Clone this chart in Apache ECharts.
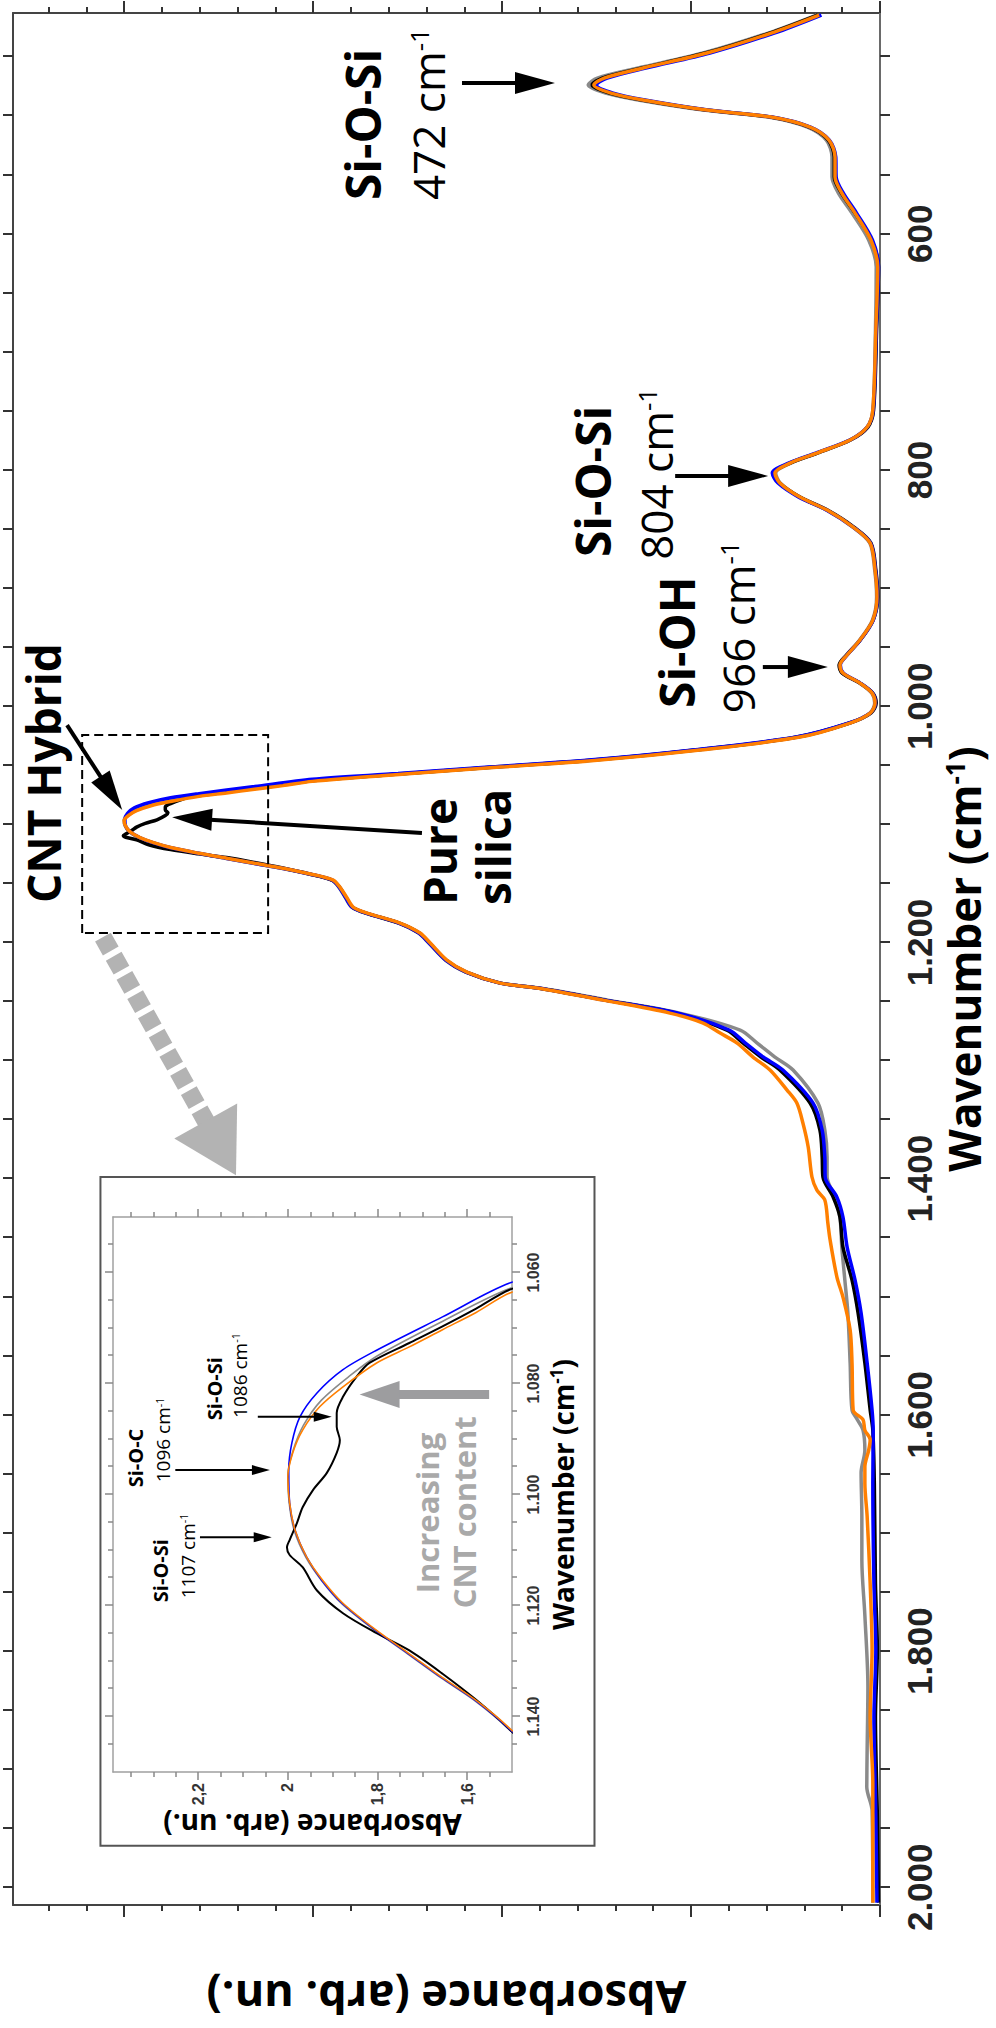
<!DOCTYPE html>
<html><head><meta charset="utf-8">
<script src="https://cdn.jsdelivr.net/npm/echarts@6.0.0/dist/echarts.min.js"></script>
<style>
html,body{margin:0;padding:0;background:#fff;overflow:hidden;width:996px;height:2028px;}
#wrap{position:absolute;left:0;top:0;width:2028px;height:996px;transform-origin:0 0;transform:translate(0px,2028px) rotate(-90deg);}
</style></head><body>
<div id="wrap"></div>
<script>
// ---------- data (wavenumber cm-1, absorbance arb. un.) ----------
const orangeSpectrum = [[414.7,0.161],[430.0,0.288],[446.9,0.458],[459.6,0.627],[468.1,0.730],[474.0,0.757],[480.8,0.712],[486.7,0.627],[495.2,0.458],[501.1,0.288],[509.6,0.185],[520.6,0.135],[535.0,0.119],[551.9,0.119],[565.5,0.101],[582.4,0.066],[605.2,0.024],[628.1,0.006],[681.5,0.011],[749.2,0.019],[763.6,0.034],[774.6,0.079],[785.6,0.167],[794.1,0.238],[802.5,0.278],[811.0,0.265],[822.9,0.212],[833.9,0.140],[848.3,0.071],[861.8,0.026],[884.7,0.013],[907.5,0.008],[927.0,0.019],[943.9,0.053],[956.6,0.087],[965.1,0.106],[971.9,0.098],[980.4,0.053],[988.8,0.021],[997.3,0.013],[1005.8,0.026],[1014.2,0.079],[1026.1,0.212],[1037.1,0.476],[1045.6,0.741],[1051.5,1.005],[1057.0,1.240],[1063.6,1.502],[1067.2,1.580],[1070.3,1.655],[1073.4,1.729],[1076.3,1.802],[1080.6,1.877],[1084.2,1.929],[1088.4,1.967],[1092.5,1.989],[1096.8,2.000],[1101.5,1.996],[1106.4,1.984],[1111.3,1.958],[1115.5,1.922],[1119.6,1.877],[1124.5,1.802],[1128.7,1.729],[1133.0,1.655],[1137.1,1.580],[1142.0,1.507],[1147.2,1.447],[1153.1,1.429],[1162.4,1.410],[1170.0,1.394],[1175.1,1.357],[1183.6,1.270],[1192.0,1.217],[1200.5,1.190],[1214.9,1.146],[1225.1,1.093],[1234.4,1.005],[1238.6,0.907],[1248.8,0.733],[1259.8,0.556],[1268.2,0.468],[1276.7,0.423],[1285.2,0.378],[1297.0,0.336],[1308.0,0.291],[1325.0,0.246],[1336.0,0.220],[1352.9,0.204],[1373.2,0.190],[1398.6,0.180],[1409.7,0.167],[1418.1,0.146],[1437.6,0.138],[1452.0,0.132],[1483.3,0.114],[1500.3,0.098],[1528.2,0.079],[1556.1,0.074],[1595.9,0.071],[1604,0.045],[1613,0.040],[1621,0.026],[1630,0.030],[1644,0.040],[1658,0.040],[1686,0.034],[1743,0.026],[1799,0.021],[1856,0.026],[1912,0.019],[2013,0.019]];
const blackSpectrum = [[414.7,0.165],[430.0,0.292],[446.9,0.462],[459.6,0.630],[468.1,0.735],[474.0,0.762],[480.8,0.716],[486.7,0.630],[495.2,0.460],[501.1,0.290],[509.6,0.187],[520.6,0.137],[535.0,0.121],[551.9,0.121],[565.5,0.102],[582.4,0.066],[605.2,0.022],[628.1,0.004],[681.5,0.009],[749.2,0.017],[763.6,0.032],[774.6,0.078],[785.6,0.166],[794.1,0.238],[802.5,0.280],[811.0,0.266],[822.9,0.212],[833.9,0.139],[848.3,0.069],[861.8,0.024],[884.7,0.011],[907.5,0.006],[927.0,0.018],[943.9,0.052],[956.6,0.088],[965.1,0.108],[971.9,0.100],[980.4,0.053],[988.8,0.019],[997.3,0.010],[1005.8,0.024],[1014.2,0.080],[1026.1,0.220],[1037.1,0.490],[1045.6,0.760],[1051.5,1.020],[1057.0,1.255],[1063.0,1.502],[1066.5,1.580],[1069.7,1.655],[1072.7,1.729],[1076.3,1.818],[1078.8,1.847],[1082.4,1.877],[1085.3,1.891],[1087.8,1.891],[1090.2,1.884],[1092.5,1.891],[1096.1,1.913],[1099.2,1.944],[1102.3,1.967],[1105.2,1.980],[1108.2,1.996],[1109.5,2.002],[1110.9,1.996],[1113.1,1.967],[1117.3,1.935],[1121.4,1.877],[1125.0,1.802],[1128.1,1.729],[1132.3,1.655],[1137.0,1.580],[1142.0,1.510],[1147.2,1.450],[1153.1,1.430],[1162.4,1.412],[1170.0,1.396],[1175.1,1.360],[1183.6,1.272],[1192.0,1.219],[1200.5,1.192],[1214.9,1.148],[1225.1,1.095],[1234.4,1.005],[1238.6,0.905],[1248.8,0.728],[1259.8,0.540],[1274.2,0.405],[1285.2,0.362],[1297.0,0.315],[1308.0,0.265],[1336.0,0.185],[1358.8,0.159],[1381.7,0.153],[1398.6,0.151],[1415.6,0.124],[1432.5,0.106],[1457.9,0.098],[1485.9,0.074],[1513.8,0.058],[1556.1,0.040],[1595.9,0.026],[1612.9,0.019],[1658,0.015],[1743,0.012],[1799,0.007],[1856,0.012],[1940,0.007],[2013,0.004]];
const blueSpectrum = [[414.7,0.155],[430.0,0.280],[446.9,0.450],[459.6,0.620],[468.1,0.722],[474.0,0.750],[480.8,0.706],[486.7,0.622],[495.2,0.455],[501.1,0.286],[509.6,0.184],[520.6,0.134],[535.0,0.117],[551.9,0.116],[565.5,0.097],[582.4,0.062],[605.2,0.020],[628.1,0.004],[681.5,0.010],[749.2,0.018],[763.6,0.034],[774.6,0.080],[785.6,0.170],[794.1,0.242],[802.5,0.285],[811.0,0.270],[822.9,0.215],[833.9,0.141],[848.3,0.071],[861.8,0.025],[884.7,0.012],[907.5,0.007],[927.0,0.018],[943.9,0.052],[956.6,0.087],[965.1,0.105],[971.9,0.097],[980.4,0.052],[988.8,0.020],[997.3,0.012],[1005.8,0.026],[1014.2,0.082],[1026.1,0.222],[1037.1,0.495],[1045.6,0.770],[1051.5,1.035],[1057.0,1.275],[1061.8,1.502],[1068.0,1.655],[1074.0,1.802],[1077.5,1.877],[1081.7,1.935],[1086.0,1.973],[1090.7,1.991],[1095.6,1.998],[1101.5,1.996],[1106.4,1.984],[1111.3,1.958],[1115.5,1.924],[1119.6,1.879],[1124.5,1.804],[1128.7,1.731],[1133.0,1.657],[1137.1,1.582],[1142.0,1.509],[1147.2,1.449],[1153.1,1.431],[1162.4,1.413],[1170.0,1.397],[1175.1,1.360],[1183.6,1.273],[1192.0,1.220],[1200.5,1.193],[1214.9,1.149],[1225.1,1.095],[1234.4,1.005],[1238.6,0.905],[1248.8,0.728],[1259.8,0.535],[1274.2,0.399],[1285.2,0.356],[1297.0,0.309],[1308.0,0.257],[1336.0,0.177],[1358.8,0.153],[1381.7,0.146],[1398.6,0.145],[1415.6,0.114],[1432.5,0.098],[1457.9,0.087],[1485.9,0.066],[1513.8,0.050],[1556.1,0.034],[1595.9,0.021],[1612.9,0.018],[1658,0.019],[1743,0.016],[1799,0.011],[1856,0.016],[1940,0.011],[2013,0.008]];
const graySpectrum = [[414.7,0.168],[430.0,0.296],[446.9,0.468],[459.6,0.640],[468.1,0.748],[474.0,0.772],[480.8,0.726],[486.7,0.640],[495.2,0.468],[501.1,0.296],[509.6,0.192],[520.6,0.142],[535.0,0.127],[551.9,0.127],[565.5,0.110],[582.4,0.074],[605.2,0.030],[628.1,0.010],[681.5,0.012],[749.2,0.019],[763.6,0.034],[774.6,0.079],[785.6,0.166],[794.1,0.236],[802.5,0.276],[811.0,0.264],[822.9,0.212],[833.9,0.141],[848.3,0.072],[861.8,0.027],[884.7,0.014],[907.5,0.009],[927.0,0.020],[943.9,0.054],[956.6,0.089],[965.1,0.108],[971.9,0.099],[980.4,0.054],[988.8,0.022],[997.3,0.014],[1005.8,0.027],[1014.2,0.081],[1026.1,0.216],[1037.1,0.484],[1045.6,0.752],[1051.5,1.015],[1057.0,1.250],[1062.8,1.502],[1069.0,1.660],[1075.0,1.800],[1078.5,1.860],[1083.0,1.925],[1087.5,1.965],[1092.0,1.988],[1096.5,2.000],[1101.5,1.997],[1106.4,1.986],[1111.3,1.960],[1115.5,1.925],[1119.6,1.881],[1124.5,1.806],[1128.7,1.733],[1133.0,1.659],[1137.1,1.584],[1142.0,1.511],[1147.2,1.450],[1153.1,1.432],[1162.4,1.414],[1170.0,1.398],[1175.1,1.362],[1183.6,1.274],[1192.0,1.221],[1200.5,1.194],[1214.9,1.150],[1225.1,1.096],[1234.4,1.003],[1238.6,0.900],[1248.8,0.720],[1259.8,0.530],[1274.2,0.370],[1285.2,0.325],[1297.0,0.278],[1308.0,0.230],[1336.0,0.164],[1358.8,0.146],[1381.7,0.140],[1398.6,0.140],[1415.6,0.119],[1432.5,0.106],[1457.9,0.101],[1485.9,0.093],[1513.8,0.085],[1556.1,0.079],[1595.9,0.074],[1604,0.060],[1612.9,0.045],[1630,0.040],[1649,0.050],[1686,0.048],[1723,0.048],[1770,0.040],[1830,0.032],[1883,0.034],[1915,0.035],[1935,0.021],[2013,0.019]];

// ---------- ticks / labels ----------
const wavenumberTicks = [450,500,550,600,650,700,750,800,850,900,950,1000,1050,1100,1150,1200,1250,1300,1350,1400,1450,1500,1550,1600,1650,1700,1750,1800,1850,1900,1950,2000];
const wavenumberLabels = [600,800,1000,1200,1400,1600,1800,2000];
const absorbanceMajorTicks = [0,0.5,1,1.5,2];
const absorbanceMinorTicks = [0.1,0.2,0.3,0.4,0.6,0.7,0.8,0.9,1.1,1.2,1.3,1.4,1.6,1.7,1.8,1.9,2.1,2.2];
const insetWavenumberLabels = [1060,1080,1100,1120,1140];
const insetWavenumberMinorTicks = [1055,1065,1070,1075,1085,1090,1095,1105,1110,1115,1125,1130,1135,1145];
const insetAbsorbanceLabels = [1.6,1.8,2.0,2.2];
const insetAbsorbanceMinorTicks = [1.55,1.65,1.7,1.75,1.85,1.9,1.95,2.05,2.1,2.15,2.25,2.3,2.35];

const spectra = [
  {name:'CNT hybrid C', data:graySpectrum, color:'#8a8a8a'},
  {name:'Pure silica', data:blackSpectrum, color:'#000000'},
  {name:'CNT hybrid B', data:blueSpectrum, color:'#0000ff'},
  {name:'CNT hybrid A', data:orangeSpectrum, color:'#ff7f00'}
];

// ---------- helpers ----------
const fmtThousands = v => v >= 1000 ? Math.floor(v/1000) + '.' + String(v % 1000).padStart(3,'0') : String(v);
const fmtComma = v => String(Math.round(v*10)/10).replace('.', ',');
const FONT = 'Open Sans';

function axis(o) {
  return {
    type:'value', gridIndex:o.grid, position:o.pos, min:o.min, max:o.max, inverse:!!o.inverse,
    axisLine:{show:!!o.line, onZero:false, lineStyle:{color:o.lineColor || '#444', width:o.lineWidth || 2}},
    axisTick:{show:true, inside:false, customValues:o.ticks, length:o.tickLen, lineStyle:{color:o.tickColor || '#333', width:o.tickWidth || 2}},
    axisLabel:o.labels ? Object.assign({show:true, customValues:o.labels}, o.labelStyle) : {show:false},
    splitLine:{show:false}, minorTick:{show:false},
    name:o.name || '', nameLocation:'middle', nameGap:o.nameGap || 0, nameRotate:o.nameRotate,
    nameTextStyle:o.nameStyle || {}
  };
}

const mainWn = {grid:0, min:413, max:2015, inverse:true};
const mainAb = {grid:0, min:0, max:2.294};
const insWn = {grid:1, min:1050, max:1150, inverse:true};
const insAb = {grid:1, min:1.5, max:2.39};

const bigName = {fontFamily:FONT, fontWeight:'bold', fontSize:44, lineHeight:44, color:'#000',
  rich:{t:{fontFamily:FONT, fontWeight:'bold', fontSize:44, lineHeight:44, color:'#000'}, s:{fontFamily:FONT, fontWeight:'bold', fontSize:26, lineHeight:28, color:'#000', verticalAlign:'top'}}};
const smallName = {fontFamily:FONT, fontWeight:'bold', fontSize:28, lineHeight:29, color:'#000',
  rich:{t:{fontFamily:FONT, fontWeight:'bold', fontSize:28, lineHeight:29, color:'#000'}, s:{fontFamily:FONT, fontWeight:'bold', fontSize:17, lineHeight:19, color:'#000', verticalAlign:'top'}}};

const xAxes = [
  axis(Object.assign({}, mainWn, {pos:'bottom', line:true, lineColor:'#6a6a6a', ticks:wavenumberTicks, tickLen:10,
    labels:wavenumberLabels, labelStyle:{formatter:fmtThousands, margin:22, fontSize:35, fontWeight:'bold', fontFamily:'Liberation Sans', color:'#222'},
    name:'{t|Wavenumber (cm}{s|-1}{t|)}', nameGap:60, nameStyle:bigName})),
  axis(Object.assign({}, mainWn, {pos:'top', line:true, ticks:wavenumberTicks, tickLen:10})),
  axis(Object.assign({}, insWn, {pos:'bottom', line:true, lineColor:'#a0a0a0', lineWidth:1.5, ticks:insetWavenumberLabels, tickLen:8, tickColor:'#888', tickWidth:1.5,
    labels:insetWavenumberLabels, labelStyle:{formatter:fmtThousands, margin:13, fontSize:16, fontWeight:'bold', fontFamily:'Liberation Sans', color:'#333'},
    name:'{t|Wavenumber (cm}{s|-1}{t|)}', nameGap:36, nameStyle:smallName})),
  axis(Object.assign({}, insWn, {pos:'bottom', ticks:insetWavenumberMinorTicks, tickLen:5, tickColor:'#888', tickWidth:1.5})),
  axis(Object.assign({}, insWn, {pos:'top', line:true, lineColor:'#a0a0a0', lineWidth:1.5, ticks:insetWavenumberLabels, tickLen:8, tickColor:'#888', tickWidth:1.5})),
  axis(Object.assign({}, insWn, {pos:'top', ticks:insetWavenumberMinorTicks, tickLen:5, tickColor:'#888', tickWidth:1.5}))
];
const yAxes = [
  axis(Object.assign({}, mainAb, {pos:'left', line:true, ticks:absorbanceMajorTicks, tickLen:12,
    name:'Absorbance (arb. un.)', nameGap:70, nameRotate:90, nameStyle:{fontFamily:FONT, fontWeight:'bold', fontSize:45, lineHeight:46, color:'#000'}})),
  axis(Object.assign({}, mainAb, {pos:'left', ticks:absorbanceMinorTicks, tickLen:6})),
  axis(Object.assign({}, mainAb, {pos:'right', line:true, ticks:absorbanceMajorTicks, tickLen:12})),
  axis(Object.assign({}, mainAb, {pos:'right', ticks:absorbanceMinorTicks, tickLen:6})),
  axis(Object.assign({}, insAb, {pos:'left', line:true, lineColor:'#a0a0a0', lineWidth:1.5, ticks:insetAbsorbanceLabels, tickLen:8, tickColor:'#888', tickWidth:1.5,
    labels:insetAbsorbanceLabels, labelStyle:{formatter:fmtComma, margin:11, fontSize:16, fontWeight:'bold', fontFamily:'Liberation Sans', color:'#333'},
    name:'Absorbance (arb. un.)', nameGap:38, nameRotate:90, nameStyle:{fontFamily:FONT, fontWeight:'bold', fontSize:28, lineHeight:29, color:'#000'}})),
  axis(Object.assign({}, insAb, {pos:'left', ticks:insetAbsorbanceMinorTicks, tickLen:5, tickColor:'#888', tickWidth:1.5})),
  axis(Object.assign({}, insAb, {pos:'right', line:true, lineColor:'#a0a0a0', lineWidth:1.5, ticks:insetAbsorbanceLabels, tickLen:8, tickColor:'#888', tickWidth:1.5})),
  axis(Object.assign({}, insAb, {pos:'right', ticks:insetAbsorbanceMinorTicks, tickLen:5, tickColor:'#888', tickWidth:1.5}))
];

const series = [];
spectra.forEach(s => series.push({type:'line', name:s.name, xAxisIndex:0, yAxisIndex:0, data:s.data, showSymbol:false, smooth:0.3, clip:true,
  lineStyle:{color:s.color, width:3.5}, itemStyle:{color:s.color}, emphasis:{disabled:true}}));
spectra.forEach(s => series.push({type:'line', name:s.name + ' (inset)', xAxisIndex:2, yAxisIndex:4, data:s.data, showSymbol:false, smooth:0.3, clip:true,
  lineStyle:{color:s.color, width:s.color === '#000000' ? 2 : 1.6}, itemStyle:{color:s.color}, emphasis:{disabled:true}}));

const chart = echarts.init(document.getElementById('wrap'), null, {renderer:'svg', width:2028, height:996});
chart.setOption({
  animation:false, backgroundColor:'#ffffff',
  grid:[
    {left:123, right:13, top:13, bottom:116, outerBoundsMode:'none', containLabel:false},
    {left:256, right:1217, top:113, bottom:484, outerBoundsMode:'none', containLabel:false}
  ],
  xAxis:xAxes, yAxis:yAxes, series:series
});

// ---------- annotations (anchored in data units, converted by the chart's scales) ----------
const P = (w,a) => chart.convertToPixel({xAxisIndex:0, yAxisIndex:0}, [w,a]);
const Q = (w,a) => chart.convertToPixel({xAxisIndex:2, yAxisIndex:4}, [w,a]);

function arrow(p0, p1, o) {
  const dx = p1[0]-p0[0], dy = p1[1]-p0[1], len = Math.hypot(dx,dy), ux = dx/len, uy = dy/len;
  const bx = p1[0]-ux*o.head, by = p1[1]-uy*o.head, nx = -uy, ny = ux, hw = o.headW/2;
  return [
    {type:'line', z:100, shape:{x1:p0[0], y1:p0[1], x2:bx+ux*2, y2:by+uy*2}, style:{stroke:o.color, lineWidth:o.lw, lineDash:o.dash || null, lineCap:'butt'}},
    {type:'polygon', z:100, shape:{points:[[p1[0],p1[1]],[bx+nx*hw,by+ny*hw],[bx-nx*hw,by-ny*hw]]}, style:{fill:o.color}}
  ];
}
function label(p, text, o) {
  const st = {text:text, x:p[0], y:p[1], fontFamily:FONT, fontSize:o.size, fontWeight:o.weight || 'normal', fill:o.color || '#000',
    align:'left', verticalAlign:'middle', textAlign:'left', textVerticalAlign:'middle'};
  if (o.sup) {
    st.text = '{n|' + text + '}{s|-1}';
    st.rich = {n:{fontFamily:FONT, fontSize:o.size, fontWeight:o.weight || 'normal', fill:o.color || '#000', color:o.color || '#000'},
               s:{fontFamily:FONT, fontSize:Math.round(o.size*0.58), fontWeight:o.weight || 'normal', fill:o.color || '#000', color:o.color || '#000', verticalAlign:'top'}};
  }
  return {type:'text', z:100, style:st};
}

const g = [];
// main chart labels (anchor = start of the text line)
g.push(label(P(571.4,1.369), 'Si-O-Si', {size:48, weight:'bold'}));
g.push(label(P(571.4,1.196), '472 cm', {size:44, sup:true}));
g.push(label(P(873.7,0.761), 'Si-O-Si', {size:48, weight:'bold'}));
g.push(label(P(876.0,0.593), '804 cm', {size:44, sup:true}));
g.push(label(P(1001.5,0.538), 'Si-OH', {size:48, weight:'bold'}));
g.push(label(P(1005.8,0.375), '966 cm', {size:44, sup:true}));
g.push(label(P(1166.6,2.214), 'CNT Hybrid', {size:46, weight:'bold'}));
g.push(label(P(1168.3,1.167), 'Pure', {size:46, weight:'bold'}));
g.push(label(P(1168.3,1.025), 'silica', {size:46, weight:'bold'}));
// main arrows
const blk = {color:'#000', lw:4, head:40, headW:22};
g.push(...arrow(P(472.3,1.106), P(472.3,0.860), blk));
g.push(...arrow(P(805.0,0.542), P(805.0,0.296), blk));
g.push(...arrow(P(966.8,0.310), P(966.8,0.138), blk));
g.push(...arrow(P(1015.9,2.151), P(1087.9,2.005), blk));
g.push(...arrow(P(1107.4,1.212), P(1094.0,1.873), blk));
// zoom box + grey dashed pointer
const r0 = P(1024.4,2.111), r1 = P(1192.0,1.619);
g.push({type:'rect', z:100, shape:{x:Math.min(r0[0],r1[0]), y:Math.min(r0[1],r1[1]), width:Math.abs(r1[0]-r0[0]), height:Math.abs(r1[1]-r0[1])},
  style:{fill:'none', stroke:'#000', lineWidth:2, lineDash:[9,5]}});
g.push(...arrow(P(1195.4,2.056), P(1397.0,1.704), {color:'#b3b3b3', lw:18, head:62, headW:72, dash:[16,6]}));
// inset frame
const b0 = Q(1042.8,2.418), b1 = Q(1163.3,1.316);
g.push({type:'rect', z:1, shape:{x:Math.min(b0[0],b1[0]), y:Math.min(b0[1],b1[1]), width:Math.abs(b1[0]-b0[0]), height:Math.abs(b1[1]-b0[1])},
  style:{fill:'none', stroke:'#555', lineWidth:2}});
// inset labels
g.push(label(Q(1098.7,2.339), 'Si-O-C', {size:20, weight:'bold'}));
g.push(label(Q(1097.8,2.278), '1096 cm', {size:19, sup:true}));
g.push(label(Q(1119.4,2.283), 'Si-O-Si', {size:20, weight:'bold'}));
g.push(label(Q(1118.7,2.223), '1107 cm', {size:19, sup:true}));
g.push(label(Q(1086.6,2.163), 'Si-O-Si', {size:20, weight:'bold'}));
g.push(label(Q(1086.2,2.107), '1086 cm', {size:19, sup:true}));
g.push(label(Q(1117.8,1.689), 'Increasing', {size:31, weight:'bold', color:'#a9a9a9'}));
g.push(label(Q(1120.5,1.607), 'CNT content', {size:31, weight:'bold', color:'#a9a9a9'}));
const sm = {color:'#000', lw:2, head:18, headW:10};
g.push(...arrow(Q(1095.6,2.251), Q(1095.6,2.040), sm));
g.push(...arrow(Q(1107.7,2.196), Q(1107.7,2.036), sm));
g.push(...arrow(Q(1086.0,2.067), Q(1086.0,1.902), sm));
g.push(...arrow(Q(1082.0,1.551), Q(1082.0,1.840), {color:'#9d9d9f', lw:9, head:40, headW:27}));

chart.setOption({graphic:{elements:g}});
</script>
</body></html>
